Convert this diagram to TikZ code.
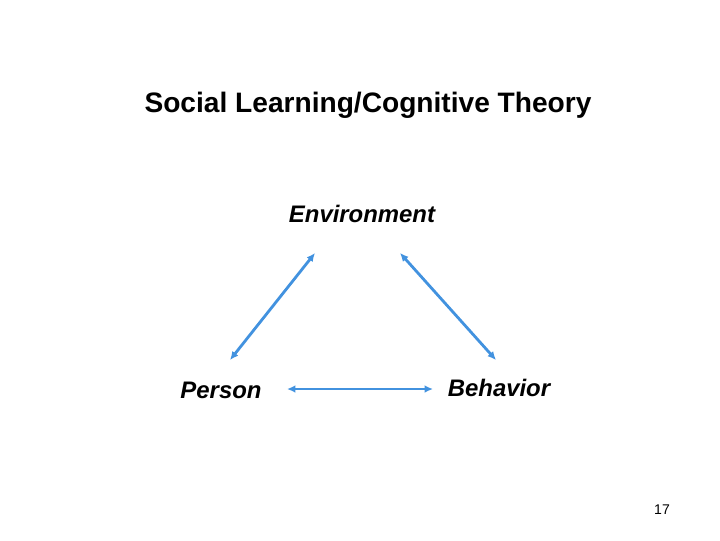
\documentclass[tikz,border=0pt]{standalone}
\usepackage{fontspec}
\setmainfont{Liberation Sans}
\usetikzlibrary{arrows.meta}
\begin{document}
\begin{tikzpicture}[x=0.025cm,y=-0.025cm]
        % Colores
        \definecolor{linkblue}{RGB}{66,146,223}
        \tikzset{
            label/.style={font=\fontsize{17}{20}\selectfont\bfseries\itshape},
            link/.style={draw=linkblue, line width=2pt, {Latex[length=6pt,width=5.5pt]}-{Latex[length=6pt,width=5.5pt]}}
        }
        \useasboundingbox (0,0) rectangle (720,540);

        % Titulo
        \node[font=\fontsize{20}{24}\selectfont\bfseries] (title) at (368,105) {Social Learning/Cognitive Theory};

        % Vertices del triangulo
        \node[label] (env) at (362,214) {Environment};
        \node[label] (person) at (221,390) {Person};
        \node[label] (behav) at (499,388) {Behavior};

        % Extremos de las flechas
        \coordinate (pe) at (230,360);
        \coordinate (ep) at (315,253);
        \coordinate (eb) at (400,253);
        \coordinate (be) at (496,360);
        \coordinate (pb) at (287,389);
        \coordinate (bp) at (433,389);

        % Flechas
        \draw[link] (pe) -- (ep);
        \draw[link] (eb) -- (be);
        \draw[link] (pb) -- (bp);

        % Numero de pagina
        \node[font=\fontsize{10}{12}\selectfont] (page) at (662,510) {17};
    \end{tikzpicture}
\end{document}
